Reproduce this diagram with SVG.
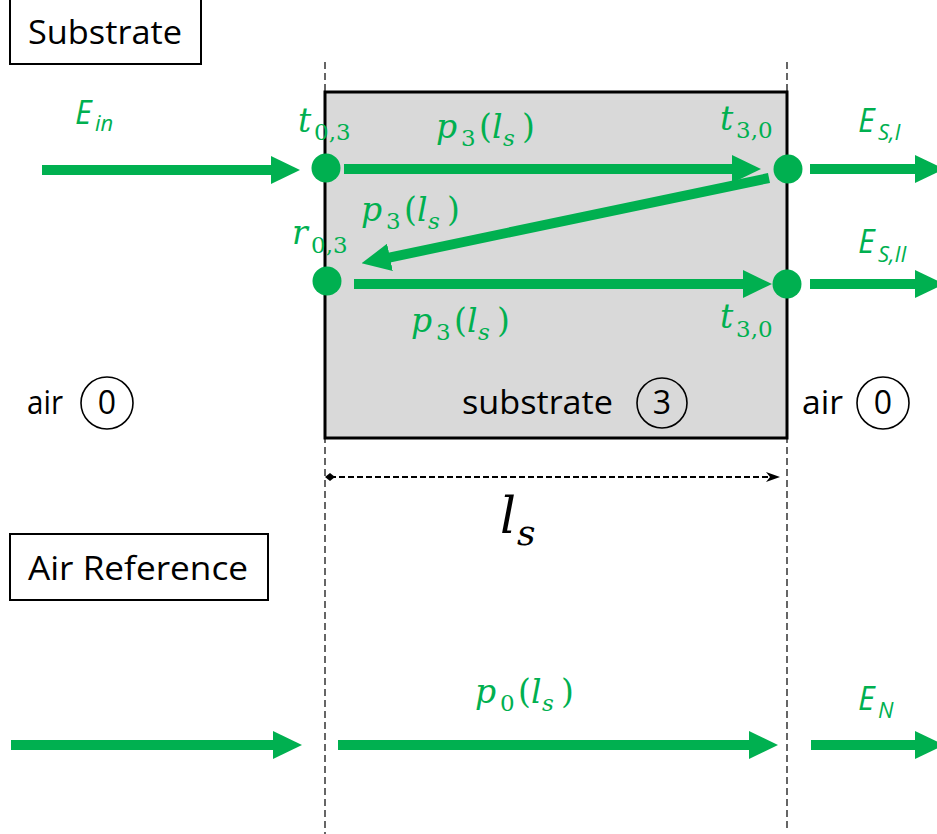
<svg xmlns="http://www.w3.org/2000/svg" width="937" height="834" viewBox="0 0 937 834">
<defs>
<style>
.box{fill:#fff;stroke:#000;stroke-width:2}
.lbl{font-family:"Open Sans","Noto Sans",sans-serif;font-size:32px;fill:#000}
.g{fill:#00b050}
.arr{stroke:#00b050;stroke-width:10;fill:none;marker-end:url(#ah)}
.m{font-family:"DejaVu Serif","Liberation Serif",serif;font-size:33px;fill:#00b050}
.i{font-style:italic}
.sub{font-size:23px}
.e{font-family:"Open Sans","Noto Sans",sans-serif;font-style:italic;font-size:32px;fill:#00b050}
.es{font-size:22px}
.vd{stroke:#000;stroke-width:1.2;stroke-dasharray:7 4;fill:none}
.cir{fill:none;stroke:#000;stroke-width:1.6}
</style>
<marker id="ah" markerUnits="userSpaceOnUse" viewBox="0 0 29 28" refX="2" refY="14" markerWidth="29" markerHeight="28" orient="auto">
<path d="M0,0 L29,14 L0,28 z" fill="#00b050"/>
</marker>
<marker id="dia" markerUnits="userSpaceOnUse" viewBox="0 0 10 10" refX="5" refY="5" markerWidth="10" markerHeight="10" orient="auto">
<path d="M0,5 L5,1 L10,5 L5,9 z" fill="#000"/>
</marker>
<marker id="sa" markerUnits="userSpaceOnUse" viewBox="0 0 14 10" refX="13" refY="5" markerWidth="14" markerHeight="10" orient="auto">
<path d="M0,0 L14,5 L0,10 L4,5 z" fill="#000"/>
</marker>
</defs>

<g id="substrate-region">
<rect x="325" y="92" width="462" height="346" fill="#d9d9d9" stroke="#000" stroke-width="3"/>
</g>

<g id="guides">
<line class="vd" x1="325" y1="62" x2="325" y2="834"/>
<line class="vd" x1="787" y1="62" x2="787" y2="830"/>
</g>

<g id="title-substrate">
<rect class="box" x="10" y="-2" width="191" height="66"/>
<text class="lbl" x="28" y="44" textLength="154" lengthAdjust="spacingAndGlyphs">Substrate</text>
</g>

<g id="title-air">
<rect class="box" x="10" y="534" width="258" height="66"/>
<text class="lbl" x="28" y="580" textLength="220" lengthAdjust="spacingAndGlyphs">Air Reference</text>
</g>

<g id="medium-air-left">
<text class="lbl" x="27" y="414" textLength="36" lengthAdjust="spacingAndGlyphs">air</text>
<circle class="cir" cx="107" cy="403" r="26"/>
<text class="lbl" x="107" y="414" text-anchor="middle">0</text>
</g>

<g id="medium-substrate">
<text class="lbl" x="462" y="414" textLength="151" lengthAdjust="spacingAndGlyphs">substrate</text>
<circle class="cir" cx="662" cy="403" r="25"/>
<text class="lbl" x="662" y="414" text-anchor="middle">3</text>
</g>

<g id="medium-air-right">
<text class="lbl" x="802" y="414" textLength="41" lengthAdjust="spacingAndGlyphs">air</text>
<circle class="cir" cx="883" cy="403" r="26"/>
<text class="lbl" x="883" y="414" text-anchor="middle">0</text>
</g>

<g id="connectors">
<line class="arr" x1="42" y1="170" x2="273" y2="170"/>
<line class="arr" x1="344" y1="169" x2="734" y2="169"/>
<line class="arr" x1="810" y1="169" x2="917" y2="169"/>
<line class="arr" x1="769" y1="178" x2="388" y2="257.8"/>
<line class="arr" x1="354" y1="284" x2="745" y2="284"/>
<line class="arr" x1="810" y1="284" x2="917" y2="284"/>
<line class="arr" x1="11" y1="745" x2="275" y2="745"/>
<line class="arr" x1="338" y1="745" x2="751" y2="745"/>
<line class="arr" x1="811" y1="745" x2="917" y2="745"/>
<line stroke="#000" stroke-width="2" stroke-dasharray="6 3" x1="330" y1="477" x2="779" y2="477" marker-start="url(#dia)" marker-end="url(#sa)"/>
</g>

<g id="node-t03"><circle class="g" cx="326" cy="168" r="14.5"/></g>
<g id="node-t30a"><circle class="g" cx="788" cy="169" r="14.5"/></g>
<g id="node-r03"><circle class="g" cx="327" cy="281" r="14.5"/></g>
<g id="node-t30b"><circle class="g" cx="787" cy="284" r="14.5"/></g>

<g id="labels">
<text class="e" x="75" y="124">E<tspan class="es" x="95" y="131">in</tspan></text>
<text class="e" x="858" y="132">E<tspan class="es" x="878" y="140">S,I</tspan></text>
<text class="e" x="858" y="253">E<tspan class="es" x="878" y="262">S,II</tspan></text>
<text class="e" x="858" y="710">E<tspan class="es" x="878" y="718">N</tspan></text>

<text class="m"><tspan class="i" x="298" y="132">t</tspan><tspan class="sub" x="314" y="140">0,3</tspan></text>
<text class="m"><tspan class="i" x="720" y="130">t</tspan><tspan class="sub" x="736" y="138">3,0</tspan></text>
<text class="m"><tspan class="i" x="720" y="328">t</tspan><tspan class="sub" x="736" y="337">3,0</tspan></text>
<text class="m"><tspan class="i" x="292" y="244">r</tspan><tspan class="sub" x="311" y="253">0,3</tspan></text>

<text class="m"><tspan class="i" x="436" y="138">p</tspan><tspan class="sub" x="461" y="146">3</tspan><tspan x="479" y="138">(</tspan><tspan class="i" x="492" y="138">l</tspan><tspan class="i sub" x="503" y="146">s</tspan><tspan x="522" y="138">)</tspan></text>
<text class="m"><tspan class="i" x="361" y="221">p</tspan><tspan class="sub" x="386" y="229">3</tspan><tspan x="404" y="221">(</tspan><tspan class="i" x="417" y="221">l</tspan><tspan class="i sub" x="428" y="229">s</tspan><tspan x="447" y="221">)</tspan></text>
<text class="m"><tspan class="i" x="411" y="332">p</tspan><tspan class="sub" x="436" y="340">3</tspan><tspan x="454" y="332">(</tspan><tspan class="i" x="467" y="332">l</tspan><tspan class="i sub" x="478" y="340">s</tspan><tspan x="497" y="332">)</tspan></text>
<text class="m"><tspan class="i" x="475" y="703">p</tspan><tspan class="sub" x="500" y="711">0</tspan><tspan x="518" y="703">(</tspan><tspan class="i" x="531" y="703">l</tspan><tspan class="i sub" x="542" y="711">s</tspan><tspan x="561" y="703">)</tspan></text>

<text class="m" style="font-size:50px;fill:#000"><tspan class="i" x="500" y="533">l</tspan><tspan class="i" style="font-size:36px" x="517" y="545">s</tspan></text>
</g>
</svg>
